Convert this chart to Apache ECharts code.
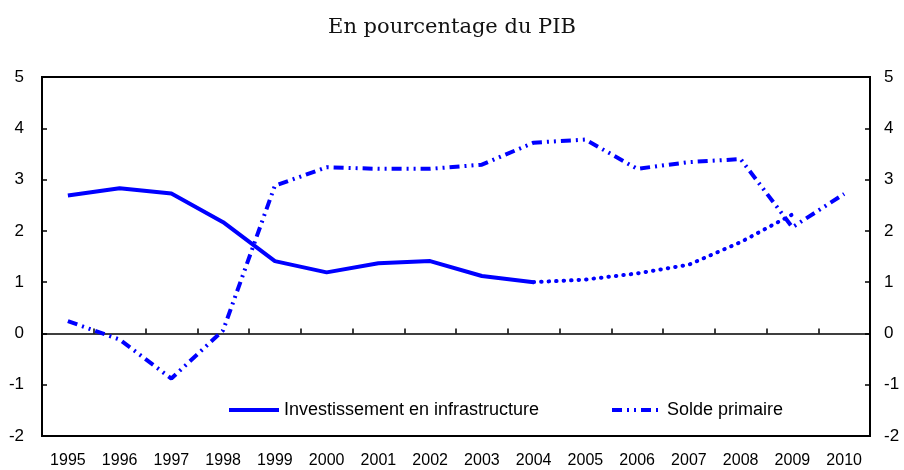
<!DOCTYPE html>
<html>
<head>
<meta charset="utf-8">
<script src="https://cdn.jsdelivr.net/npm/echarts@6/dist/echarts.min.js"></script>
<style>
  html, body { margin: 0; padding: 0; background: #fff; }
  #chart { width: 904px; height: 470px; }
</style>
</head>
<body>
<div id="chart"></div>
<script>
// annees
var years = ['1995','1996','1997','1998','1999','2000','2001','2002','2003','2004','2005','2006','2007','2008','2009','2010'];
// investissement en infrastructure (observe)
var investObs = [2.69, 2.83, 2.73, 2.17, 1.41, 1.19, 1.37, 1.41, 1.12, 1.00, null, null, null, null, null, null];
// investissement en infrastructure (projection, pointille)
var investProj = [null, null, null, null, null, null, null, null, null, 1.00, 1.05, 1.17, 1.34, 1.78, 2.32, null];
// solde primaire
var solde = [0.24, -0.12, -0.88, 0.06, 2.88, 3.24, 3.21, 3.21, 3.29, 3.72, 3.78, 3.21, 3.34, 3.40, 2.07, 2.72];

var BLUE = '#0000ff';
var sans = '"Liberation Sans", Arial, sans-serif';

var chart = echarts.init(document.getElementById('chart'));

chart.setOption({
  animation: false,
  title: {
    text: 'En pourcentage du PIB',
    left: 'center',
    top: 12,
    textStyle: {
      fontFamily: '"DejaVu Serif", serif',
      fontSize: 21,
      fontWeight: 'normal',
      color: '#111'
    }
  },
  grid: {
    left: 42,
    right: 34,
    top: 77,
    bottom: 34,
    show: true,
    borderColor: '#000',
    borderWidth: 2
  },
  legend: [
    {
      left: 222,
      top: 396,
      itemWidth: 50,
      itemHeight: 12,
      itemStyle: { opacity: 0 },
      lineStyle: { width: 4 },
      data: ['Investissement en infrastructure'],
      textStyle: { fontFamily: sans, fontSize: 18, color: '#000' }
    },
    {
      left: 605,
      top: 396,
      itemWidth: 50,
      itemHeight: 12,
      itemStyle: { opacity: 0 },
      lineStyle: { width: 4 },
      data: ['Solde primaire'],
      textStyle: { fontFamily: sans, fontSize: 18, color: '#000' }
    }
  ],
  xAxis: [
    {
      // axe des libelles en bas
      type: 'category',
      position: 'bottom',
      data: years,
      boundaryGap: true,
      axisLine: { show: false, onZero: false },
      axisTick: { show: false },
      axisLabel: { interval: 0, fontFamily: sans, fontSize: 16, color: '#000', margin: 17 }
    },
    {
      // ligne du zero avec graduations
      type: 'category',
      position: 'bottom',
      data: years,
      boundaryGap: true,
      axisLine: { show: true, onZero: true, onZeroAxisIndex: 0, lineStyle: { color: '#000', width: 1.5 } },
      axisTick: { show: true, inside: true, length: 5, lineStyle: { color: '#000', width: 1.5 } },
      axisLabel: { show: false }
    }
  ],
  yAxis: [
    {
      type: 'value',
      position: 'left',
      min: -2,
      max: 5,
      interval: 1,
      splitLine: { show: false },
      axisLine: { show: true, lineStyle: { color: '#000', width: 2 } },
      axisTick: { show: true, inside: true, length: 5, lineStyle: { color: '#000', width: 1.5 } },
      axisLabel: { fontFamily: sans, fontSize: 17, color: '#000', margin: 18 }
    },
    {
      type: 'value',
      position: 'right',
      min: -2,
      max: 5,
      interval: 1,
      splitLine: { show: false },
      axisLine: { show: true, lineStyle: { color: '#000', width: 2 } },
      axisTick: { show: true, inside: true, length: 5, lineStyle: { color: '#000', width: 1.5 } },
      axisLabel: { fontFamily: sans, fontSize: 17, color: '#000', margin: 14 }
    }
  ],
  series: [
    {
      name: 'Investissement en infrastructure',
      type: 'line',
      data: investObs,
      symbol: 'none',
      lineStyle: { color: BLUE, width: 4 },
      itemStyle: { color: BLUE }
    },
    {
      name: 'proj',
      type: 'line',
      data: investProj,
      symbol: 'none',
      lineStyle: { color: BLUE, width: 4, type: [0.5, 7], cap: 'round' },
      itemStyle: { color: BLUE }
    },
    {
      name: 'Solde primaire',
      type: 'line',
      data: solde,
      symbol: 'none',
      lineStyle: { color: BLUE, width: 4, type: [10, 5, 2, 5, 2, 5] },
      itemStyle: { color: BLUE }
    }
  ]
});
</script>
</body>
</html>
